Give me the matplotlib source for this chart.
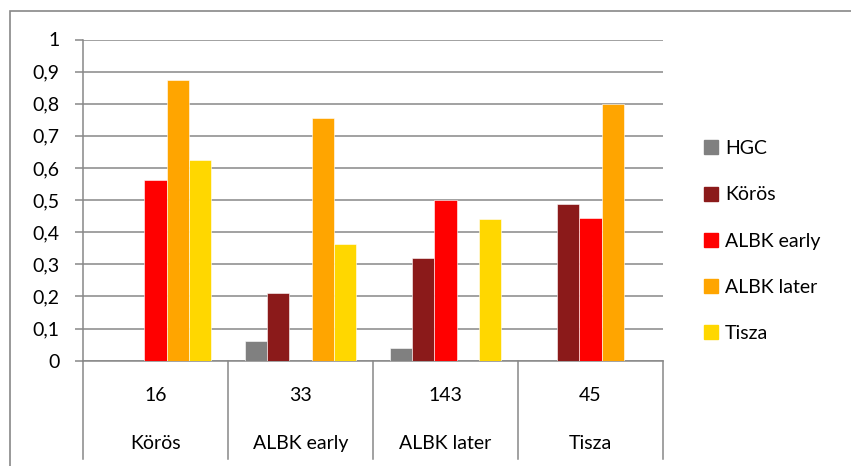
import matplotlib
matplotlib.use("Agg")
import matplotlib.pyplot as plt
import matplotlib.transforms as mtransforms
from matplotlib.lines import Line2D
from matplotlib.patches import Rectangle
import numpy as np

plt.rcParams['font.family'] = ['Lato', 'DejaVu Sans']

groups = ["Körös", "ALBK early", "ALBK later", "Tisza"]
counts = ["16", "33", "143", "45"]

series = ["HGC", "Körös", "ALBK early", "ALBK later", "Tisza"]
hgc = [0, 0.06, 0.04, 0]
koros = [0, 0.211, 0.321, 0.488]
albk_early = [0.562, 0, 0.501, 0.443]
albk_later = [0.874, 0.757, 0, 0.799]
tisza = [0.624, 0.362, 0.44, 0]
colors = ["#808080", "#8B1A1A", "#FF0000", "#FFA500", "#FFD700"]

yticks = [0, 0.1, 0.2, 0.3, 0.4, 0.5, 0.6, 0.7, 0.8, 0.9, 1]
ytick_labels = ["0", "0,1", "0,2", "0,3", "0,4", "0,5", "0,6", "0,7", "0,8", "0,9", "1"]

grid_col = "#888888"
fs = 14

fig = plt.figure(figsize=(8.51, 4.66), dpi=100)
ax = fig.add_axes([83 / 851, 1 - 360.7 / 466, 580 / 851, 321.2 / 466])

x = np.arange(len(groups))
w = 1 / 6.5  # gap width 150 %
for i, (vals, c) in enumerate(zip([hgc, koros, albk_early, albk_later, tisza], colors)):
    ax.bar(x + (i - 2) * w, vals, width=w, color=c, edgecolor="white",
           linewidth=0.4, zorder=3)

ax.set_xlim(-0.5, len(groups) - 0.5)
ax.set_ylim(0, 1)
ax.set_yticks(yticks)
ax.set_yticklabels(ytick_labels, fontsize=fs)
ax.yaxis.grid(True, color=grid_col, linewidth=1.1, zorder=0)
ax.tick_params(axis="y", length=6, width=1.1, color=grid_col, pad=11)
ax.set_xticks([])
for s in ["top", "right"]:
    ax.spines[s].set_visible(False)
ax.spines["left"].set_color(grid_col)
ax.spines["left"].set_linewidth(1.1)
ax.spines["bottom"].set_color(grid_col)
ax.spines["bottom"].set_linewidth(1.1)

# two-level category axis below the plot
trans = mtransforms.blended_transform_factory(ax.transData, ax.transAxes)
for b in np.arange(-0.5, len(groups), 1.0):
    ax.plot([b, b], [0, -0.306], transform=trans, color=grid_col,
            linewidth=1.1, clip_on=False)
for xi, n, g in zip(x, counts, groups):
    ax.text(xi, -0.107, n, transform=trans, ha="center", va="center", fontsize=fs)
    ax.text(xi, -0.257, g, transform=trans, ha="center", va="center", fontsize=fs)

handles = [Line2D([], [], linestyle="none", marker="s", markersize=9.5,
                  markerfacecolor=c, markeredgecolor=c) for c in colors]
fig.legend(handles, series, loc="center left",
           bbox_to_anchor=(686 / 851, 1 - 241 / 466), frameon=False,
           fontsize=fs, labelspacing=1.5, handlelength=0.8, handletextpad=0.3)

# chart frame
fig.patches.append(Rectangle((10 / 851, -0.1), 1.2, 1 - 11 / 466 + 0.1,
                             transform=fig.transFigure, fill=False,
                             edgecolor=grid_col, linewidth=1.2))

fig.savefig("out.png", dpi=100)
